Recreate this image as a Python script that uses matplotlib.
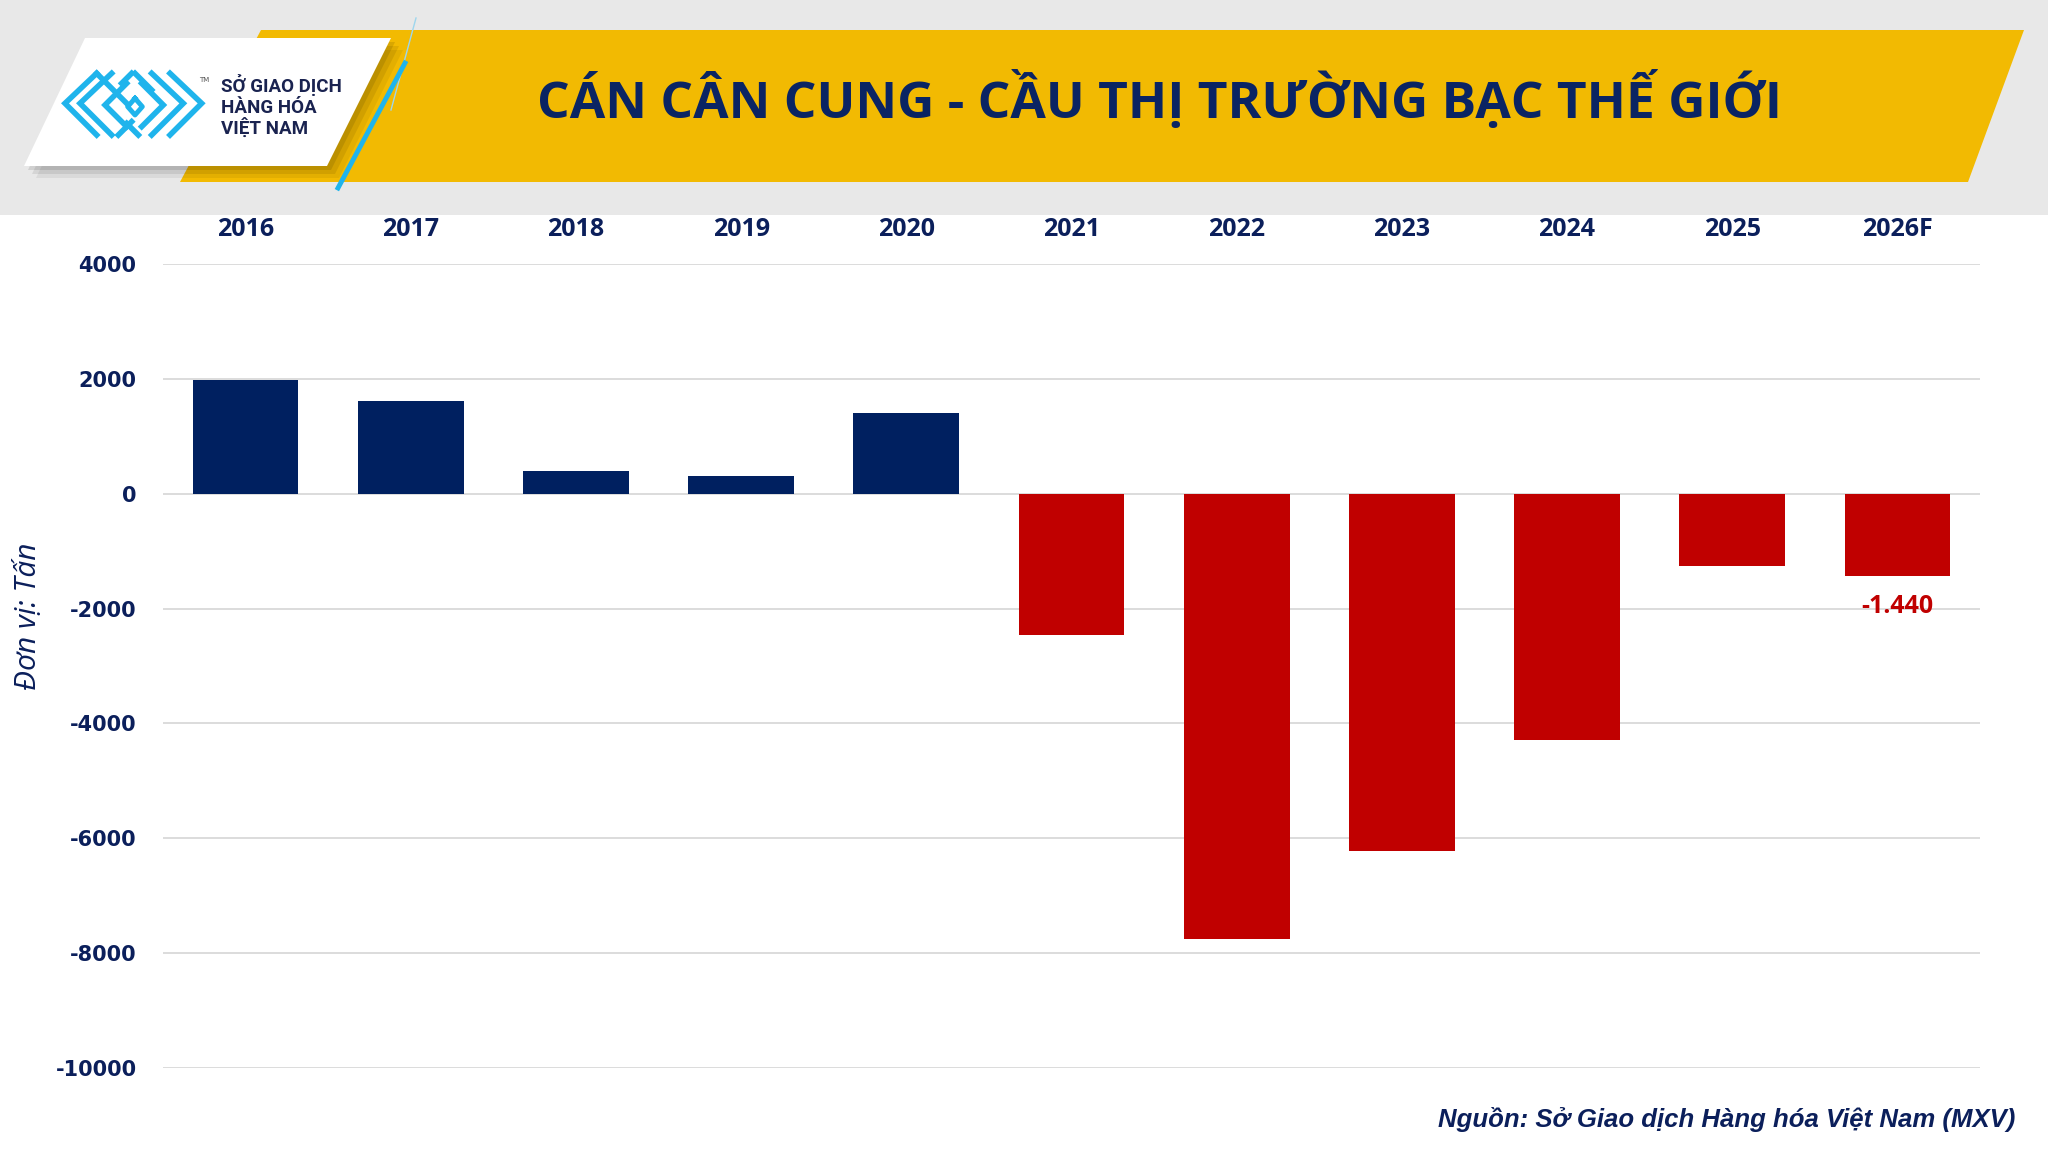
import numpy as np
import matplotlib
matplotlib.use("Agg")
import matplotlib.pyplot as plt
from matplotlib.patches import Polygon, Rectangle
from matplotlib.lines import Line2D

# data (tonnes)
years = ["2016", "2017", "2018", "2019", "2020", "2021", "2022", "2023", "2024", "2025", "2026F"]
balance = [1980, 1620, 400, 300, 1400, -2460, -7750, -6230, -4280, -1250, -1440]
yticks = [4000, 2000, 0, -2000, -4000, -6000, -8000, -10000]

NAVY = "#002060"
RED = "#C00000"
TXT = "#0B1F5B"
YELLOW = "#F2BA02"
LBLUE = "#1FB4EC"

W, H = 2048, 1152
fig = plt.figure(figsize=(W / 100, H / 100), dpi=100, facecolor="white")


def px(x, y):
    # pixel coords (top-left origin) -> figure fraction
    return (x / W, 1 - y / H)


def poly(pts, **kw):
    fig.patches.append(Polygon([px(*p) for p in pts], closed=True,
                               transform=fig.transFigure, **kw))


# ---- header band ----
fig.patches.append(Rectangle(px(0, 215), 1, 215 / H, transform=fig.transFigure,
                             facecolor="#E8E8E8", edgecolor="none", zorder=0))
# yellow banner
poly([(261, 30), (2024, 30), (1968, 182), (180, 182)], facecolor=YELLOW,
     edgecolor="none", zorder=1)
# soft shadow of the logo box
for k, a in [(4, 0.10), (8, 0.08), (12, 0.06)]:
    poly([(85 + k, 38 + k), (391 + k, 38 + k), (327 + k, 166 + k), (24 + k, 166 + k)],
         facecolor="#000000", alpha=a, edgecolor="none", zorder=2)
# white logo box
poly([(85, 38), (391, 38), (327, 166), (24, 166)], facecolor="white",
     edgecolor="none", zorder=3)
# blue stripes
fig.lines.append(Line2D([416 / W, 391 / W], [1 - 18 / H, 1 - 110 / H],
                        transform=fig.transFigure, color="#9DD6EE", lw=1, zorder=3))
fig.lines.append(Line2D([405 / W, 338 / W], [1 - 63 / H, 1 - 188 / H],
                        transform=fig.transFigure, color=LBLUE, lw=3.5, zorder=4))

# logo chevrons (local coords of the zoomed logo, 3x scale, origin at 55,60)
def lg(x, y):
    return (55 + x / 3) / W, 1 - (60 + y / 3) / H

chevrons = [
    [(125, 40), (30, 130), (125, 225)],
    [(170, 40), (75, 130), (170, 225)],
    [(215, 70), (150, 135), (215, 200)],
    [(290, 40), (385, 130), (290, 225)],
    [(345, 40), (440, 130), (345, 225)],
    [(260, 70), (325, 135), (260, 200)],
    [(125, 40), (215, 130)],
    [(230, 40), (200, 70)],
    [(240, 40), (290, 90)],
    [(190, 225), (230, 185)],
    [(250, 225), (215, 190)],
]
for ch in chevrons:
    xs, ys = zip(*[lg(*p) for p in ch])
    fig.lines.append(Line2D(xs, ys, transform=fig.transFigure, color=LBLUE,
                            lw=4, solid_joinstyle="miter", zorder=5))
dx, dy = zip(*[lg(*p) for p in [(240, 115), (262, 140), (240, 165), (218, 140), (240, 115)]])
fig.lines.append(Line2D(dx, dy, transform=fig.transFigure, color=LBLUE, lw=3.5, zorder=5))

logo_font = ["Roboto", "DejaVu Sans"]
for i, line in enumerate(["SỞ GIAO DỊCH", "HÀNG HÓA", "VIỆT NAM"]):
    fig.text(*px(221, 92 + i * 21), line, fontsize=13.5, fontweight="bold",
             color="#1A2350", family=logo_font, ha="left", va="baseline", zorder=6)
fig.text(*px(199, 82), "TM", fontsize=5, color="#555555", zorder=6)

# title
fig.text(*px(1159, 118), "CÁN CÂN CUNG - CẦU THỊ TRƯỜNG BẠC THẾ GIỚI",
         fontsize=37, fontweight="bold", color="#0A2463",
         family=["Open Sans", "DejaVu Sans"], ha="center", va="baseline", zorder=6)

# ---- chart ----
ax = fig.add_axes([163 / W, 1 - 1068 / H, (1980 - 163) / W, (1068 - 264) / H])
x = np.arange(len(years))
colors = [NAVY if v >= 0 else RED for v in balance]
ax.bar(x, balance, width=0.64, color=colors, zorder=3)

ax.set_xlim(-0.5, len(years) - 0.5)
ax.set_ylim(-10000, 4000)
ax.set_yticks(yticks)
ax.set_yticklabels([str(t) for t in yticks])
ax.grid(axis="y", color="#D9D9D9", lw=1.3, zorder=0)
ax.set_axisbelow(True)
for s in ax.spines.values():
    s.set_visible(False)

ax.set_xticks(x)
ax.set_xticklabels(years)
ax.xaxis.tick_top()
ax.tick_params(axis="x", length=0, pad=16, labelsize=18, labelcolor=TXT)
ax.tick_params(axis="y", length=0, pad=19, labelsize=15, labelcolor=TXT)
for lab in ax.get_xticklabels():
    lab.set_fontweight("bold")
    lab.set_family(["Open Sans", "DejaVu Sans"])
for lab in ax.get_yticklabels():
    lab.set_fontweight("bold")
    lab.set_family("DejaVu Sans")

# value label on the forecast bar
ax.annotate("-1.440", xy=(x[-1], balance[-1]), xytext=(0, -13), textcoords="offset points",
            ha="center", va="top", fontsize=18, fontweight="bold", color=RED,
            family=["Open Sans", "DejaVu Sans"])

fig.text(*px(29, 616), "Đơn vị: Tấn", rotation=90, ha="center", va="center",
         fontsize=21.5, style="italic", color=TXT, family=["Open Sans", "DejaVu Sans"])

fig.text(*px(2015, 1127), "Nguồn: Sở Giao dịch Hàng hóa Việt Nam (MXV)",
         ha="right", va="baseline", fontsize=18.5, style="italic", fontweight="bold",
         color=TXT, family=["Liberation Sans", "DejaVu Sans"])

fig.savefig("out.png", dpi=100, facecolor="white")
